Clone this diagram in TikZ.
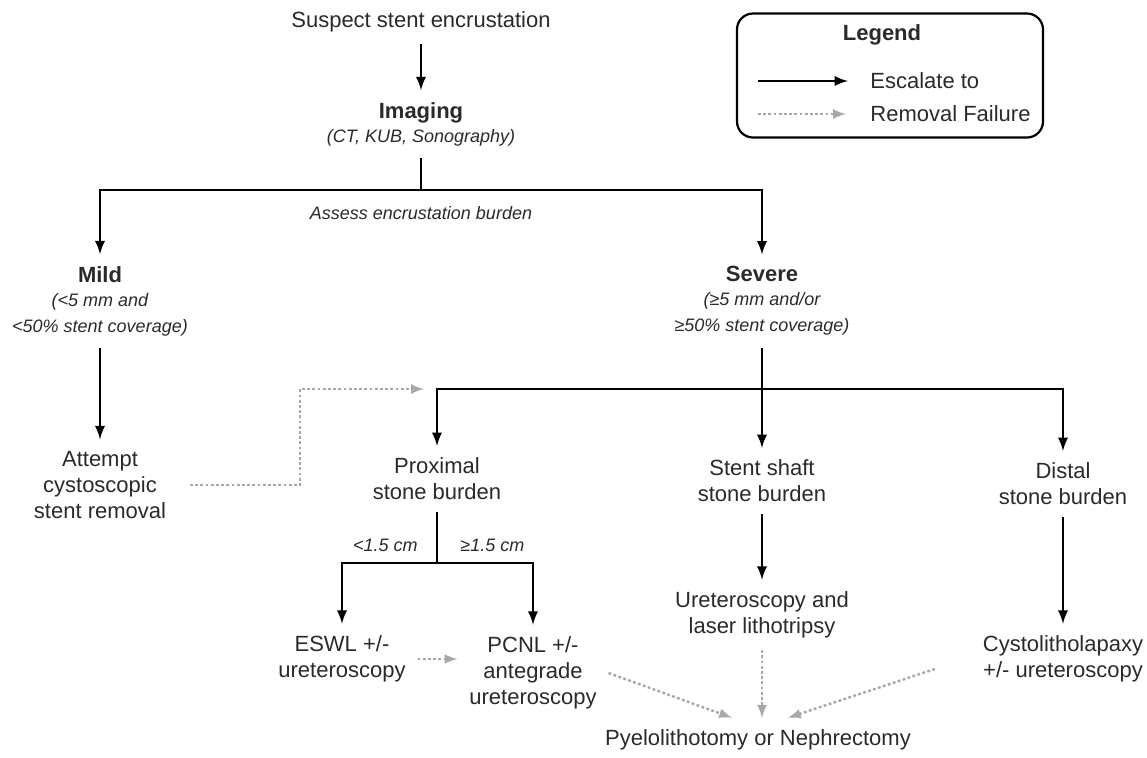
\documentclass[tikz,border=0pt]{standalone}
\usepackage{fontspec}
\setmainfont{Liberation Sans}
\usetikzlibrary{arrows}
\definecolor{txtgray}{HTML}{2A2A2A}
\definecolor{failgray}{HTML}{A8A8A8}
\newcommand{\subtxt}{\fontsize{9}{11}\selectfont\itshape}

\begin{document}
\begin{tikzpicture}[x=0.5pt,y=-0.5pt,
    box/.style={align=center,text=txtgray,font=\fontsize{11}{13}\selectfont,inner sep=0pt,outer sep=6pt},
    lbl/.style={text=txtgray,font=\subtxt,inner sep=0pt},
    branch/.style={line width=1.3pt},
    esc/.style={branch,-latex},
    fail/.style={-latex,failgray,line width=1.2pt,dash pattern=on 1.4pt off 1.2pt}]

  \useasboundingbox (0,0) rectangle (1147,757);

  % top of the chart
  \node[box] (suspect) at (421,22) {Suspect stent encrustation};
  \node[box] (imaging) at (421,124) {\textbf{Imaging}\\[-1pt] \subtxt (CT, KUB, Sonography)};
  \node[lbl] (assess) at (421,213) {Assess encrustation burden};

  \node[box] (mild) at (100,301) {\textbf{Mild}\\[-1pt] \subtxt (<5 mm and\\ \subtxt <50\% stent coverage)};
  \node[box] (severe) at (762,301) {\textbf{Severe}\\[-1pt] \subtxt (≥5 mm and/or\\ \subtxt ≥50\% stent coverage)};

  \node[box] (attempt) at (100,485) {Attempt\\ cystoscopic\\ stent removal};

  % severe branches
  \node[box] (proximal) at (437,479) {Proximal\\ stone burden};
  \node[box] (shaft) at (762,481) {Stent shaft\\ stone burden};
  \node[box] (distal) at (1063,484) {Distal\\ stone burden};

  \node[lbl,anchor=east] (small) at (418,545) {<1.5 cm};
  \node[lbl,anchor=west] (large) at (460,545) {≥1.5 cm};

  \node[box] (eswl) at (342,659) {ESWL +/-\\ ureteroscopy};
  \node[box] (pcnl) at (533,673) {PCNL +/-\\ antegrade\\ ureteroscopy};
  \node[box] (uretero) at (762,615) {Ureteroscopy and\\ laser lithotripsy};
  \node[box] (cysto) at (1063,659) {Cystolitholapaxy\\ +/- ureteroscopy};
  \node[box] (pyelo) at (758,740) {Pyelolithotomy or Nephrectomy};

  \coordinate (split1) at (421,190);
  \coordinate (split2) at (762,389);
  \coordinate (split3) at (437,563);
  \coordinate (failtop) at (300,389);
  \coordinate (failend) at (424,389);

  \draw[esc] (suspect) -- (imaging);
  \draw[branch] (imaging) -- (split1);
  \draw[esc] (split1) -| (mild);
  \draw[esc] (split1) -| (severe);
  \draw[esc] (mild) -- (attempt);

  \draw[branch] (severe) -- (split2);
  \draw[esc] (split2) -| (proximal);
  \draw[esc] (split2) -- (shaft);
  \draw[esc] (split2) -| (distal);

  \draw[branch] (proximal) -- (split3);
  \draw[esc] (split3) -| (eswl);
  \draw[esc] (split3) -| (pcnl);
  \draw[esc] (shaft) -- (uretero);
  \draw[esc] (distal) -- (cysto);

  % removal failures
  \draw[fail] ([xshift=6pt]attempt.east) -| (failtop) -- (failend);
  \draw[fail] (eswl.east) -- (eswl.east -| pcnl.west);
  \draw[fail] (pcnl.east) -- ([xshift=-13pt]pyelo.north);
  \draw[fail] (uretero.south) -- (uretero.south |- pyelo.north);
  \draw[fail] ([xshift=-18pt,yshift=-5pt]cysto.west) -- ([xshift=15pt]pyelo.north);

  % legend
  \node[draw,rounded corners=8pt,line width=1.1pt,minimum width=153pt,minimum height=62pt] (legend) at (890,75.5) {};
  \node[text=txtgray,font=\fontsize{11}{13}\selectfont\bfseries] (legendtitle) at (882,35) {Legend};
  \node[anchor=west,text=txtgray,font=\fontsize{11}{13}\selectfont,inner sep=0pt] (esclabel) at (870,81) {Escalate to};
  \node[anchor=west,text=txtgray,font=\fontsize{11}{13}\selectfont,inner sep=0pt] (faillabel) at (870,114) {Removal Failure};
  \draw[esc] ([xshift=-56pt]esclabel.west) -- ([xshift=-11pt]esclabel.west);
  \draw[fail] ([xshift=-56pt]faillabel.west) -- ([xshift=-12pt]faillabel.west);
\end{tikzpicture}
\end{document}
